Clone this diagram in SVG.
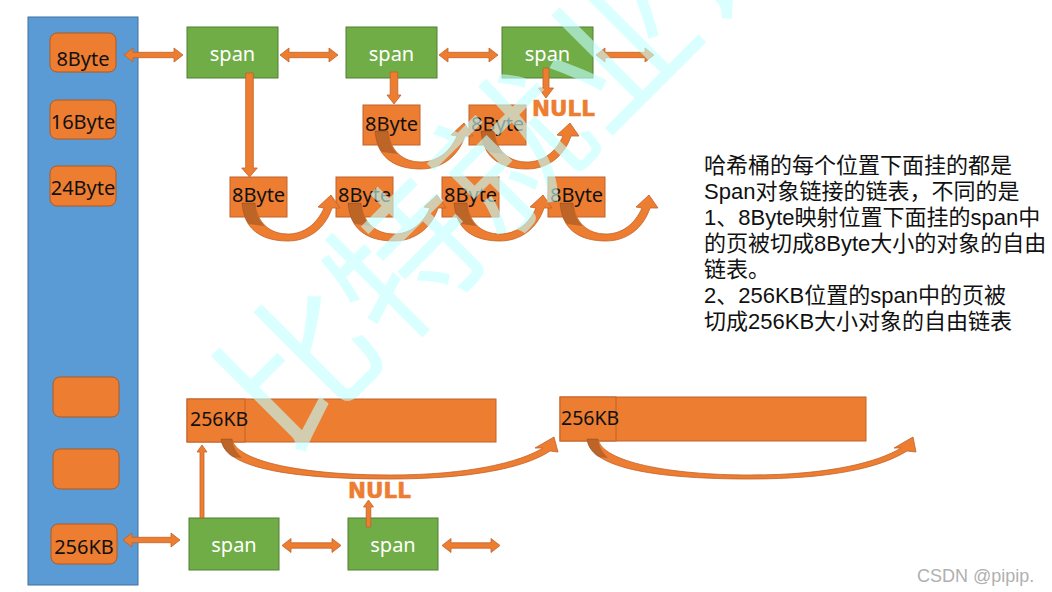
<svg xmlns="http://www.w3.org/2000/svg" width="1052" height="592" viewBox="0 0 1052 592">
<style>
.bucket{fill:#5b9bd5;stroke:#41719c;stroke-width:1}
.cell{fill:#ed7d31;stroke:#ae5a21;stroke-width:1}
.span{fill:#70ad47;stroke:#507e32;stroke-width:1}
.obj{fill:#ed7d31;stroke:#c0622a;stroke-width:1}
.lbl{font-family:"Noto Sans","Open Sans",sans-serif;font-size:20px;fill:#111}
.spt{font-family:"Noto Sans","Open Sans",sans-serif;font-size:20px;fill:#ffffff;text-anchor:middle}
.arr{fill:#ed7d31;stroke:#c0622a;stroke-width:0.8}
.null{font-family:"DejaVu Sans",sans-serif;font-weight:bold;font-size:21.5px;fill:#ed7d31;stroke:#ed7d31;stroke-width:0.6}
.note{font-family:"Liberation Sans","Noto Sans CJK SC",sans-serif;font-size:22px;fill:#111}
.shade{fill:#000;fill-opacity:0.2}
</style>
<defs>
<g id="curl">
<path class="arr" d="M12,26 C14,56 36,64 58,64 C78,64 95,52 102,31 L110,31 L101,18 L88,30 L94,31 C87,47 74,57 58,57 C40,57 27,46 25,26 Z"/>
<path class="shade" d="M12,26 C13,35 15,42 19,47 L35,49 C29,44 25.5,36 25,26 Z"/>
</g>
</defs>
<rect width="1052" height="592" fill="#ffffff"/>

<g id="bucket-column">
<rect class="bucket" x="28" y="17" width="110" height="568"/>
</g>
<g id="bucket-8Byte">
<rect class="cell" x="50" y="33" width="66" height="39" rx="7"/>
<text class="lbl" x="83" y="66" text-anchor="middle">8Byte</text>
</g>
<g id="bucket-16Byte">
<rect class="cell" x="50" y="100" width="66" height="39" rx="7"/>
<text class="lbl" x="83" y="129" text-anchor="middle">16Byte</text>
</g>
<g id="bucket-24Byte">
<rect class="cell" x="50" y="166" width="66" height="40" rx="7"/>
<text class="lbl" x="83" y="195" text-anchor="middle">24Byte</text>
</g>
<g id="bucket-empty-1">
<rect class="cell" x="53" y="377" width="66" height="40" rx="7"/>
</g>
<g id="bucket-empty-2">
<rect class="cell" x="53" y="449" width="66" height="40" rx="7"/>
</g>
<g id="bucket-256KB">
<rect class="cell" x="51" y="524" width="66" height="40" rx="7"/>
<text class="lbl" x="84" y="554" text-anchor="middle">256KB</text>
</g>

<g id="span-1"><rect class="span" x="187" y="27" width="91" height="51"/><text class="spt" x="232.5" y="61">span</text></g>
<g id="span-2"><rect class="span" x="346" y="27" width="91" height="51"/><text class="spt" x="391.5" y="61">span</text></g>
<g id="span-3"><rect class="span" x="502" y="27" width="91" height="51"/><text class="spt" x="547.5" y="61">span</text></g>
<g id="span-256-1"><rect class="span" x="189" y="518" width="90" height="52"/><text class="spt" x="234" y="551.5">span</text></g>
<g id="span-256-2"><rect class="span" x="348" y="518" width="90" height="52"/><text class="spt" x="393" y="551.5">span</text></g>

<g id="obj-a1"><rect class="obj" x="363" y="105" width="57" height="40"/><text class="lbl" x="365" y="130.5">8Byte</text></g>
<g id="obj-a2"><rect class="obj" x="469" y="105" width="57" height="40"/><text class="lbl" x="471" y="130.5">8Byte</text></g>
<g id="obj-b1"><rect class="obj" x="230" y="177" width="57" height="40"/><text class="lbl" x="232" y="202">8Byte</text></g>
<g id="obj-b2"><rect class="obj" x="336" y="177" width="57" height="40"/><text class="lbl" x="338" y="201.5">8Byte</text></g>
<g id="obj-b3"><rect class="obj" x="442" y="177" width="57" height="40"/><text class="lbl" x="444" y="201.5">8Byte</text></g>
<g id="obj-b4"><rect class="obj" x="548" y="177" width="57" height="40"/><text class="lbl" x="550" y="201.5">8Byte</text></g>

<g id="big-1"><rect class="obj" x="187" y="399" width="309" height="43"/><rect class="obj" x="187" y="399" width="58" height="43"/><text class="lbl" x="190" y="425.5" style="font-size:19.5px">256KB</text></g>
<g id="big-2"><rect class="obj" x="560" y="397" width="306" height="44"/><rect class="obj" x="560" y="397" width="56" height="44"/><text class="lbl" x="561" y="425" style="font-size:19.5px">256KB</text></g>

<g id="null-top"><text class="null" x="532" y="115.5">NULL</text></g>
<g id="null-bottom"><text class="null" x="348" y="498">NULL</text></g>

<g id="connectors">
<polygon class="arr" points="124,55 133,48 133,52.3 174,52.3 174,48 183,55 174,62 174,57.7 133,57.7 133,62"/>
<polygon class="arr" points="280,55 289,48 289,52.3 329,52.3 329,48 338,55 329,62 329,57.7 289,57.7 289,62"/>
<polygon class="arr" points="439,55 448,48 448,52.3 489,52.3 489,48 498,55 489,62 489,57.7 448,57.7 448,62"/>
<polygon class="arr" points="596,55 605,48 605,52.3 645,52.3 645,48 654,55 645,62 645,57.7 605,57.7 605,62"/>
<polygon class="arr" points="123,540 132,533 132,537.3 171,537.3 171,533 180,540 171,547 171,542.7 132,542.7 132,547"/>
<polygon class="arr" points="282,545.5 291,538.5 291,542.8 332,542.8 332,538.5 341,545.5 332,552.5 332,548.2 291,548.2 291,552.5"/>
<polygon class="arr" points="442,545.5 451,538.5 451,542.8 491,542.8 491,538.5 500,545.5 491,552.5 491,548.2 451,548.2 451,552.5"/>
<polygon class="arr" points="245.7,73 253.3,73 253.3,168 257.3,168 249.5,177 241.7,168 245.7,168"/>
<polygon class="arr" points="390.2,72 397.8,72 397.8,95 401,95 394,104 387,95 390.2,95"/>
<polygon class="arr" points="543,68 549,68 549,88 553.5,88 546,98 538.5,88 543,88"/>
<polygon class="arr" points="200,518 204,518 204,452 207,452 202,445 197,452 200,452"/>
<polygon class="arr" points="366.2,527 370.8,527 370.8,507 373.5,507 368.5,500 363.5,507 366.2,507"/>
<use href="#curl" transform="translate(363,105)"/>
<use href="#curl" transform="translate(469,105)"/>
<use href="#curl" transform="translate(230,177)"/>
<use href="#curl" transform="translate(336,177)"/>
<use href="#curl" transform="translate(442,177)"/>
<use href="#curl" transform="translate(548,177)"/>
<path class="arr" d="M221,439 C224,470 300,479 390,479 C470,479 525,468 550,451 L558,452 L554,437 L535,448 L543,448 C520,462 470,475 390,475 C305,475 236,462 232,439 Z"/>
<path class="shade" d="M221,439 C222,447 226,453 232,457 L242,458 C237,453 233,447 232,439 Z"/>
<path class="arr" d="M587,439 C590,470 665,479 750,479 C830,479 880,468 907,451 L916,452 L913,437 L894,448 L901,448 C878,462 830,475 750,475 C670,475 602,462 598,439 Z"/>
<path class="shade" d="M587,439 C588,447 592,453 598,457 L608,458 C603,453 599,447 598,439 Z"/>
</g>

<g id="note">
<text class="note" x="704" y="173">哈希桶的每个位置下面挂的都是</text>
<text class="note" x="704" y="199">Span对象链接的链表，不同的是</text>
<text class="note" x="704" y="225">1、8Byte映射位置下面挂的span中</text>
<text class="note" x="704" y="251">的页被切成8Byte大小的对象的自由</text>
<text class="note" x="704" y="277">链表。</text>
<text class="note" x="704" y="303">2、256KB位置的span中的页被</text>
<text class="note" x="704" y="329">切成256KB大小对象的自由链表</text>
</g>

<g id="watermark">
<text x="504" y="146" transform="rotate(-45 504 146)" text-anchor="middle" dominant-baseline="central" style="font-family:'Noto Sans CJK SC',sans-serif;font-weight:400;font-size:150px;fill:#c4ffff;fill-opacity:0.62">比特就业课</text>
<text x="917" y="582" style="font-family:'Liberation Sans',Arial,sans-serif;font-size:18px;fill:#b0b0b0">CSDN @pipip.</text>
</g>
</svg>
